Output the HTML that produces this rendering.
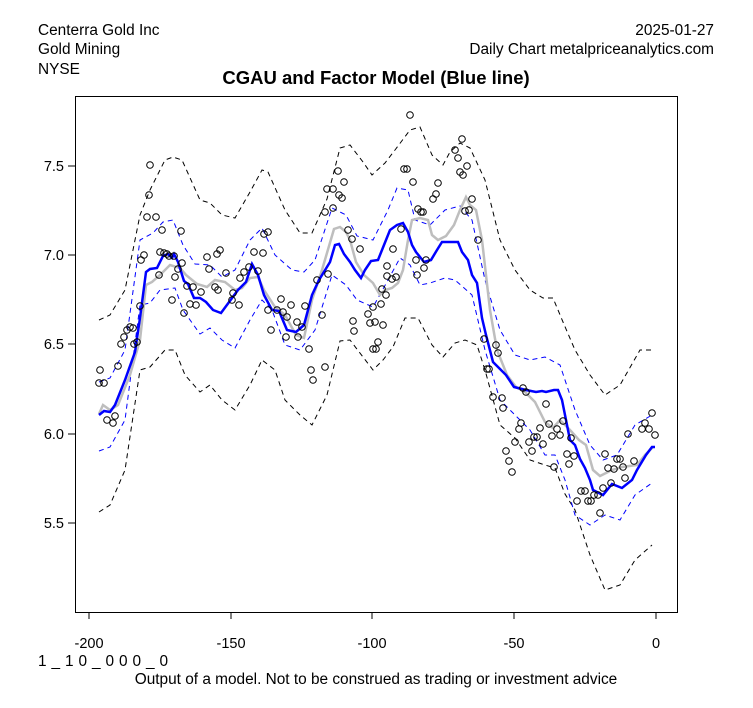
<!DOCTYPE html>
<html><head><meta charset="utf-8"><style>
body{margin:0;background:#fff;}
svg{display:block;font-family:"Liberation Sans",Arial,sans-serif;}
</style></head><body>
<svg width="753" height="708" viewBox="0 0 753 708" xmlns="http://www.w3.org/2000/svg">
<rect width="753" height="708" fill="#fff"/>
<g font-size="15.4" fill="#000">
<text x="38" y="35">Centerra Gold Inc</text>
<text x="38" y="54">Gold Mining</text>
<text x="38" y="74">NYSE</text>
<text x="714" y="35" text-anchor="end">2025-01-27</text>
<text x="714" y="54" text-anchor="end">Daily Chart metalpriceanalytics.com</text>
<text x="376" y="84" text-anchor="middle" font-weight="bold" font-size="18.5">CGAU and Factor Model (Blue line)</text>
<text x="38" y="666" textLength="130" lengthAdjust="spacing">1 _ 1 0 _ 0 0 0 _ 0</text>
<text x="376" y="684" text-anchor="middle">Output of a model. Not to be construed as trading or investment advice</text>
</g>
<rect x="75.5" y="96.5" width="602" height="516" fill="none" stroke="#000" stroke-width="1"/>
<g stroke="#000" fill="none">
<path d="M89 612v7M231 612v7M372 612v7M514 612v7M656 612v7M75 166h-7M75 255h-7M75 344h-7M75 434h-7M75 523h-7"/>
</g>
<g font-size="14.5" text-anchor="middle">
<text x="89" y="648">-200</text><text x="231" y="648">-150</text><text x="372" y="648">-100</text><text x="514" y="648">-50</text><text x="656" y="648">0</text>
</g>
<g font-size="14.5" text-anchor="end">
<text x="64" y="171">7.5</text><text x="64" y="260">7.0</text><text x="64" y="349">6.5</text><text x="64" y="439">6.0</text><text x="64" y="528">5.5</text>
</g>
<g fill="none" stroke-dasharray="5,4" stroke-width="1">
<polyline stroke="#000" points="99,320 110,315 125,290 140,215 150,190 165,160 173,157 182,160 200,200 210,203 222,215 235,218 250,192 262,170 268,172 285,210 300,233 312,233 327,199 340,148 350,145 363,162 372,175 385,163 395,150 410,130 420,127 432,155 443,165 450,152 460,143 470,148 485,180 500,240 515,270 530,290 543,298 553,298 563,322 575,350 590,375 605,395 620,385 640,350 652,350"/>
<polyline stroke="#000" points="99,512 110,505 125,470 140,370 150,367 165,350 175,350 185,375 200,392 210,385 222,400 235,410 250,385 262,360 275,370 285,400 300,415 312,425 327,395 340,341 350,340 363,357 373,370 383,360 393,347 405,318 418,318 432,345 443,357 455,343 465,340 477,345 485,370 500,425 515,438 530,460 545,465 555,468 565,494 575,510 590,555 605,590 620,585 635,560 652,545"/>
<polyline stroke="#0000ff" points="99,382 110,378 125,350 140,240 153,233 163,222 173,220 183,245 195,264 210,265 222,277 235,270 250,240 262,228 275,255 292,270 304,272 315,260 332,208 346,215 357,236 373,240 388,210 397,188 408,190 415,220 430,225 445,210 460,206 472,220 485,280 500,330 515,355 530,360 545,357 560,365 575,410 590,445 603,460 617,455 635,425 652,415"/>
<polyline stroke="#0000ff" points="99,451 110,447 125,420 140,305 150,303 160,290 175,288 183,310 200,334 210,328 222,340 235,348 250,320 262,300 272,310 285,345 300,350 315,330 332,275 346,285 357,300 373,307 388,280 400,258 410,265 420,285 430,283 445,278 455,280 472,295 485,350 500,400 515,415 530,430 545,455 555,455 565,480 575,515 590,525 605,515 620,520 635,495 652,483"/>
</g>
<polyline fill="none" stroke="#bebebe" stroke-width="2.5" points="99,414 103,405 110,410 118,405 130,375 140,340 146,285 152,282 160,275 170,265 180,268 186,275 197,284 207,287 215,280 225,282 235,290 242,288 250,278 258,277 264,290 275,307 285,315 296,335 304,338 312,300 322,270 334,229 340,227 346,232 350,240 356,262 364,275 373,283 380,295 385,290 392,288 398,283 403,270 408,240 412,220 420,218 428,220 432,235 438,240 446,236 454,225 460,210 466,197 470,205 476,210 482,240 490,310 497,350 507,375 516,387 525,392 535,402 545,422 553,428 560,420 570,430 579,440 586,445 593,470 600,476 612,470 622,467 637,465 645,455 653,447"/>
<polyline fill="none" stroke="#0000ff" stroke-width="2.5" points="99,415 104,411 110,412 115,405 125,380 135,352 140,318 146,272 150,269 157,268 163,256 168,254 172,258 174,254 178,262 184,281 188,284 194,298 200,298 206,302 213,310 221,313 238,290 246,282 252,264 258,275 264,295 272,310 279,311 287,330 296,332 304,325 312,295 319,280 330,262 335,245 339,244 344,254 350,262 355,270 361,278 365,270 371,261 378,260 384,245 390,230 397,225 403,223 408,232 412,245 416,252 424,262 431,260 437,250 442,242 450,242 458,242 462,252 468,260 472,275 477,283 482,318 486,335 493,362 500,369 506,375 514,387 526,390 536,392 542,391 546,392 554,390 558,390 562,400 570,440 575,445 580,459 585,468 590,480 593,490 603,495 612,484 622,488 632,480 637,470 646,455 652,447 655,447"/>
<g fill="none" stroke="#000" stroke-width="1">
<circle cx="100" cy="370" r="3.3"/><circle cx="99" cy="383" r="3.3"/><circle cx="104" cy="383" r="3.3"/><circle cx="107" cy="420" r="3.3"/><circle cx="113" cy="423" r="3.3"/><circle cx="115" cy="416" r="3.3"/><circle cx="118" cy="366" r="3.3"/><circle cx="121" cy="344" r="3.3"/><circle cx="124" cy="337" r="3.3"/><circle cx="127" cy="330" r="3.3"/><circle cx="130" cy="327" r="3.3"/><circle cx="133" cy="328" r="3.3"/><circle cx="134" cy="344" r="3.3"/><circle cx="137" cy="342" r="3.3"/><circle cx="140" cy="306" r="3.3"/><circle cx="141" cy="260" r="3.3"/><circle cx="144" cy="255" r="3.3"/><circle cx="147" cy="217" r="3.3"/><circle cx="149" cy="195" r="3.3"/><circle cx="150" cy="165" r="3.3"/><circle cx="156" cy="217" r="3.3"/><circle cx="159" cy="275" r="3.3"/><circle cx="160" cy="252" r="3.3"/><circle cx="162" cy="230" r="3.3"/><circle cx="164" cy="253" r="3.3"/><circle cx="167" cy="254" r="3.3"/><circle cx="169" cy="256" r="3.3"/><circle cx="174" cy="256" r="3.3"/><circle cx="178" cy="269" r="3.3"/><circle cx="172" cy="300" r="3.3"/><circle cx="175" cy="277" r="3.3"/><circle cx="182" cy="263" r="3.3"/><circle cx="181" cy="231" r="3.3"/><circle cx="184" cy="313" r="3.3"/><circle cx="187" cy="286" r="3.3"/><circle cx="190" cy="304" r="3.3"/><circle cx="193" cy="287" r="3.3"/><circle cx="196" cy="305" r="3.3"/><circle cx="201" cy="292" r="3.3"/><circle cx="207" cy="257" r="3.3"/><circle cx="217" cy="254" r="3.3"/><circle cx="209" cy="269" r="3.3"/><circle cx="215" cy="287" r="3.3"/><circle cx="218" cy="290" r="3.3"/><circle cx="220" cy="250" r="3.3"/><circle cx="226" cy="273" r="3.3"/><circle cx="232" cy="300" r="3.3"/><circle cx="233" cy="293" r="3.3"/><circle cx="239" cy="305" r="3.3"/><circle cx="240" cy="278" r="3.3"/><circle cx="244" cy="272" r="3.3"/><circle cx="249" cy="267" r="3.3"/><circle cx="254" cy="252" r="3.3"/><circle cx="258" cy="271" r="3.3"/><circle cx="264" cy="234" r="3.3"/><circle cx="268" cy="232" r="3.3"/><circle cx="263" cy="253" r="3.3"/><circle cx="268" cy="310" r="3.3"/><circle cx="271" cy="330" r="3.3"/><circle cx="277" cy="310" r="3.3"/><circle cx="281" cy="299" r="3.3"/><circle cx="283" cy="312" r="3.3"/><circle cx="287" cy="317" r="3.3"/><circle cx="286" cy="337" r="3.3"/><circle cx="291" cy="305" r="3.3"/><circle cx="297" cy="322" r="3.3"/><circle cx="298" cy="337" r="3.3"/><circle cx="302" cy="327" r="3.3"/><circle cx="305" cy="306" r="3.3"/><circle cx="309" cy="349" r="3.3"/><circle cx="311" cy="370" r="3.3"/><circle cx="313" cy="380" r="3.3"/><circle cx="317" cy="280" r="3.3"/><circle cx="322" cy="315" r="3.3"/><circle cx="325" cy="367" r="3.3"/><circle cx="328" cy="274" r="3.3"/><circle cx="325" cy="212" r="3.3"/><circle cx="333" cy="208" r="3.3"/><circle cx="333" cy="189" r="3.3"/><circle cx="327" cy="189" r="3.3"/><circle cx="339" cy="195" r="3.3"/><circle cx="342" cy="198" r="3.3"/><circle cx="344" cy="182" r="3.3"/><circle cx="338" cy="171" r="3.3"/><circle cx="348" cy="230" r="3.3"/><circle cx="352" cy="239" r="3.3"/><circle cx="353" cy="321" r="3.3"/><circle cx="354" cy="331" r="3.3"/><circle cx="360" cy="249" r="3.3"/><circle cx="368" cy="314" r="3.3"/><circle cx="370" cy="323" r="3.3"/><circle cx="373" cy="307" r="3.3"/><circle cx="375" cy="322" r="3.3"/><circle cx="373" cy="349" r="3.3"/><circle cx="376" cy="349" r="3.3"/><circle cx="378" cy="342" r="3.3"/><circle cx="381" cy="304" r="3.3"/><circle cx="387" cy="266" r="3.3"/><circle cx="393" cy="249" r="3.3"/><circle cx="392" cy="279" r="3.3"/><circle cx="387" cy="276" r="3.3"/><circle cx="386" cy="295" r="3.3"/><circle cx="382" cy="289" r="3.3"/><circle cx="383" cy="325" r="3.3"/><circle cx="396" cy="277" r="3.3"/><circle cx="401" cy="229" r="3.3"/><circle cx="404" cy="169" r="3.3"/><circle cx="407" cy="169" r="3.3"/><circle cx="410" cy="115" r="3.3"/><circle cx="413" cy="182" r="3.3"/><circle cx="416" cy="260" r="3.3"/><circle cx="417" cy="275" r="3.3"/><circle cx="418" cy="209" r="3.3"/><circle cx="421" cy="212" r="3.3"/><circle cx="423" cy="212" r="3.3"/><circle cx="424" cy="268" r="3.3"/><circle cx="426" cy="260" r="3.3"/><circle cx="433" cy="199" r="3.3"/><circle cx="436" cy="194" r="3.3"/><circle cx="438" cy="183" r="3.3"/><circle cx="455" cy="150" r="3.3"/><circle cx="458" cy="158" r="3.3"/><circle cx="460" cy="172" r="3.3"/><circle cx="462" cy="139" r="3.3"/><circle cx="467" cy="166" r="3.3"/><circle cx="463" cy="175" r="3.3"/><circle cx="465" cy="211" r="3.3"/><circle cx="469" cy="210" r="3.3"/><circle cx="472" cy="199" r="3.3"/><circle cx="478" cy="240" r="3.3"/><circle cx="484" cy="339" r="3.3"/><circle cx="487" cy="369" r="3.3"/><circle cx="489" cy="369" r="3.3"/><circle cx="496" cy="345" r="3.3"/><circle cx="498" cy="353" r="3.3"/><circle cx="493" cy="397" r="3.3"/><circle cx="502" cy="398" r="3.3"/><circle cx="503" cy="408" r="3.3"/><circle cx="506" cy="451" r="3.3"/><circle cx="509" cy="461" r="3.3"/><circle cx="512" cy="472" r="3.3"/><circle cx="515" cy="442" r="3.3"/><circle cx="519" cy="429" r="3.3"/><circle cx="521" cy="423" r="3.3"/><circle cx="523" cy="388" r="3.3"/><circle cx="526" cy="392" r="3.3"/><circle cx="529" cy="442" r="3.3"/><circle cx="532" cy="451" r="3.3"/><circle cx="534" cy="437" r="3.3"/><circle cx="537" cy="437" r="3.3"/><circle cx="540" cy="428" r="3.3"/><circle cx="543" cy="444" r="3.3"/><circle cx="546" cy="404" r="3.3"/><circle cx="549" cy="424" r="3.3"/><circle cx="552" cy="436" r="3.3"/><circle cx="554" cy="467" r="3.3"/><circle cx="557" cy="429" r="3.3"/><circle cx="560" cy="435" r="3.3"/><circle cx="563" cy="421" r="3.3"/><circle cx="567" cy="454" r="3.3"/><circle cx="569" cy="464" r="3.3"/><circle cx="571" cy="438" r="3.3"/><circle cx="574" cy="456" r="3.3"/><circle cx="577" cy="501" r="3.3"/><circle cx="581" cy="491" r="3.3"/><circle cx="585" cy="491" r="3.3"/><circle cx="588" cy="501" r="3.3"/><circle cx="591" cy="501" r="3.3"/><circle cx="594" cy="495" r="3.3"/><circle cx="598" cy="495" r="3.3"/><circle cx="600" cy="513" r="3.3"/><circle cx="603" cy="488" r="3.3"/><circle cx="605" cy="454" r="3.3"/><circle cx="608" cy="468" r="3.3"/><circle cx="611" cy="483" r="3.3"/><circle cx="614" cy="469" r="3.3"/><circle cx="617" cy="459" r="3.3"/><circle cx="620" cy="459" r="3.3"/><circle cx="623" cy="467" r="3.3"/><circle cx="625" cy="478" r="3.3"/><circle cx="628" cy="434" r="3.3"/><circle cx="634" cy="461" r="3.3"/><circle cx="642" cy="429" r="3.3"/><circle cx="649" cy="429" r="3.3"/><circle cx="645" cy="423" r="3.3"/><circle cx="652" cy="413" r="3.3"/><circle cx="655" cy="435" r="3.3"/>
</g>
</svg>
</body></html>
